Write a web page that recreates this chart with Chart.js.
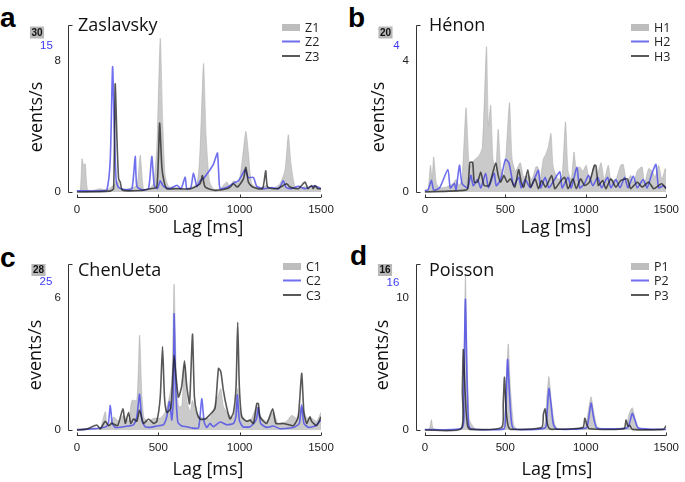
<!DOCTYPE html>
<html><head><meta charset="utf-8">
<script src="https://cdn.jsdelivr.net/npm/chart.js@4/dist/chart.umd.min.js"></script>
<style>
body{margin:0;background:#fff;width:685px;height:482px;position:relative;overflow:hidden}
canvas{position:absolute}
.lt{position:absolute;font:bold 28px "Liberation Sans",Arial,sans-serif;line-height:28px;color:#000}
</style></head><body>
<div class="lt" style="left:0;top:4px">a</div>
<div class="lt" style="left:348px;top:4px">b</div>
<div class="lt" style="left:0;top:244px">c</div>
<div class="lt" style="left:350px;top:242px">d</div>
<canvas id="ca" width="342" height="240" style="left:0;top:0"></canvas>
<canvas id="cb" width="343" height="240" style="left:342px;top:0"></canvas>
<canvas id="cc" width="342" height="242" style="left:0;top:240px"></canvas>
<canvas id="cd" width="343" height="242" style="left:342px;top:240px"></canvas>
<script>
// ---- data: [lag ms, events/s] ----
const xTicks = [0, 500, 1000, 1500];

// a) Zaslavsky
const z1 = [[0,0.3],[20,0.2],[31,6.0],[41,4.8],[51,5.1],[65,0.4],[100,0.3],[143,0.6],[184,0.4],[225,1.2],[250,2.0],[266,0.6],[317,0.6],[368,1.2],[389,6.6],[409,0.6],[440,0.5],[470,1.5],[491,8],[512,27.6],[528,12],[542,3],[563,1],[614,0.8],[675,0.5],[737,1.5],[757,8],[778,23.1],[794,10],[814,2],[839,0.5],[880,0.6],[921,1.8],[941,0.8],[962,2],[992,1.5],[1013,5],[1038,10.9],[1054,7],[1074,1.5],[1120,0.6],[1166,1.2],[1197,0.5],[1248,1.5],[1279,4],[1299,10.3],[1316,5],[1340,1],[1371,0.6],[1400,1.0],[1430,0.5],[1460,0.9],[1500,0.5]];
const z2 = [[0,0.1],[150,0.1],[184,0.2],[205,3],[219,11.25],[229,6],[241,1],[256,0.4],[300,0.2],[338,0.3],[358,3.2],[368,0.5],[400,0.2],[440,0.3],[460,3.2],[475,0.6],[495,0.3],[512,1],[532,0.5],[570,0.3],[614,0.6],[640,0.3],[665,1.35],[675,0.3],[700,0.4],[716,1.7],[737,0.5],[757,1],[778,1.2],[798,1.6],[818,2.0],[839,2.5],[855,3.2],[864,3.5],[872,1.5],[880,0.3],[920,0.4],[962,0.8],[992,1.0],[1013,1.5],[1033,2.0],[1054,1.3],[1085,1.3],[1105,0.5],[1150,0.3],[1200,0.4],[1240,0.3],[1269,1.0],[1285,0.4],[1320,0.3],[1360,0.5],[1400,0.3],[1440,0.5],[1473,0.5],[1500,0.3]];
const z3 = [[0,0],[200,0.05],[225,0.2],[235,6.6],[246,3.2],[256,0.8],[266,0.6],[280,0.1],[400,0.1],[450,0.2],[491,0.3],[508,4.2],[522,1.5],[536,0.6],[552,0.2],[600,0.2],[700,0.2],[757,0.5],[771,1.0],[788,0.3],[850,0.1],[920,0.2],[941,0.3],[962,0.5],[986,0.3],[1023,0.8],[1038,1.5],[1054,0.6],[1080,0.3],[1140,0.2],[1160,1.3],[1172,0.3],[1230,0.2],[1289,0.5],[1309,0.3],[1360,0.2],[1402,0.6],[1420,0.2],[1442,0.4],[1452,0.2],[1463,0.4],[1480,0.2],[1500,0.2]];

// b) Hénon
const h1 = [[0,0.2],[20,0.3],[35,3.2],[45,1.5],[55,4.2],[72,1.0],[92,0.5],[133,0.6],[174,1.0],[194,1.5],[211,0.8],[231,1.5],[256,10.1],[276,3],[297,3.6],[317,4],[338,4.4],[358,5.4],[383,17.4],[395,8],[409,10.4],[423,4],[440,2.5],[456,7.5],[471,3],[491,2],[501,3.5],[526,10.7],[542,4],[563,2.5],[593,3.5],[614,1.8],[645,2],[665,1.5],[690,3],[702,3.0],[716,1.5],[737,4],[751,4.5],[767,5.4],[784,7],[798,3],[829,1.5],[853,2],[874,8.4],[890,2.5],[910,1.5],[927,4.8],[941,2.8],[962,3],[982,2.5],[1003,3.2],[1023,1.5],[1054,3.2],[1070,2],[1095,3.5],[1115,1.5],[1140,3.2],[1156,1.5],[1187,1.5],[1217,3.2],[1233,3.3],[1254,1.2],[1279,2],[1299,1.2],[1320,2.5],[1350,3],[1365,1],[1391,2.8],[1412,2.5],[1432,1.8],[1453,3.2],[1473,1.5],[1494,2.8],[1500,2.5]];
const h2 = [[0,0.03],[20,0.05],[41,0.28],[55,0.05],[92,0.1],[143,0.54],[158,0.1],[184,0.2],[194,0.05],[215,0.64],[231,0.2],[266,0.1],[286,0.4],[301,0.15],[327,0.3],[348,0.1],[378,0.45],[395,0.1],[430,0.45],[444,0.15],[471,0.3],[501,0.78],[522,0.7],[538,0.4],[552,0.15],[583,0.35],[599,0.1],[624,0.3],[655,0.1],[685,0.35],[706,0.52],[720,0.1],[747,0.35],[771,0.1],[798,0.25],[839,0.48],[853,0.1],[890,0.35],[910,0.1],[945,0.6],[962,0.1],[992,0.2],[1017,0.4],[1044,0.15],[1074,0.35],[1099,0.1],[1136,0.35],[1156,0.1],[1187,0.3],[1213,0.1],[1242,0.35],[1262,0.1],[1295,0.38],[1320,0.1],[1357,0.3],[1381,0.1],[1412,0.45],[1436,0.66],[1453,0.1],[1483,0.15],[1500,0.1]];
const h3 = [[0,0],[240,0.05],[266,0.1],[280,0.9],[297,0.9],[307,0.3],[327,0.3],[348,0.6],[368,0.2],[399,0.2],[440,0.88],[456,0.5],[471,0.3],[491,0.5],[512,0.3],[532,0.4],[559,0.15],[583,0.68],[599,0.3],[614,0.15],[640,0.68],[657,0.15],[685,0.4],[706,0.1],[726,0.35],[751,0.15],[788,0.5],[808,0.1],[839,0.3],[869,0.45],[890,0.1],[921,0.4],[941,0.1],[968,0.4],[992,0.2],[1023,0.3],[1054,0.82],[1064,0.8],[1078,0.2],[1105,0.35],[1125,0.1],[1156,0.4],[1187,0.15],[1217,0.35],[1258,0.4],[1279,0.1],[1320,0.3],[1350,0.15],[1391,0.3],[1422,0.1],[1453,0.2],[1473,0.25],[1500,0.1]];

// c) ChenUeta
const c1 = [[0,0.2],[100,0.3],[143,0.3],[174,3.1],[188,0.5],[225,2.2],[256,1.5],[286,2.5],[317,1.5],[338,5],[368,5],[385,16],[399,6],[413,2],[440,1.5],[471,2],[512,2],[542,3],[563,5],[583,8],[597,24.6],[610,10],[624,4],[644,4],[661,11],[675,5],[696,3],[710,5],[737,2.5],[778,2],[818,2],[870,6],[884,7],[900,4],[921,3],[962,2],[988,7],[1003,3],[1043,1.5],[1074,2],[1105,4],[1136,2],[1166,1.5],[1207,3],[1238,1],[1289,1.5],[1320,2.5],[1350,2],[1381,4],[1412,2],[1442,2],[1473,1.5],[1500,3]];
const c2 = [[0,0],[100,0.2],[143,0.3],[180,0.5],[194,1.2],[205,3.7],[217,1.0],[235,0.4],[286,0.5],[317,0.6],[348,0.8],[368,2],[385,5.4],[399,1.5],[419,0.5],[450,0.4],[491,0.6],[532,0.8],[552,2],[569,4.3],[583,1.5],[593,5],[597,17.5],[608,6],[620,1.2],[644,0.6],[675,0.5],[706,0.3],[747,0.3],[767,4.7],[782,1.2],[798,0.4],[818,1.0],[839,0.5],[880,1.2],[921,0.8],[962,1.0],[978,2.2],[986,5.3],[998,1.5],[1019,0.5],[1064,0.5],[1101,1.5],[1115,3.4],[1129,1.0],[1166,0.4],[1207,0.6],[1248,0.2],[1309,0.3],[1340,0.5],[1367,1.0],[1381,3.8],[1395,1.0],[1422,0.4],[1463,0.6],[1500,1.5]];
const c3 = [[0,0],[61,0.05],[123,0.23],[143,0.05],[174,0.4],[194,0.2],[215,0.3],[250,0.2],[282,0.96],[297,0.3],[317,0.8],[331,0.3],[348,0.5],[368,0.4],[385,0.9],[409,0.3],[440,0.5],[471,0.3],[491,0.4],[512,1.5],[526,3.8],[538,1.5],[552,0.8],[577,1.0],[589,2.5],[597,3.4],[608,2.5],[624,1.5],[644,2.0],[661,3.15],[675,2.0],[692,1.2],[710,4.36],[722,1.5],[737,0.8],[757,0.5],[788,0.5],[818,0.7],[849,1.0],[870,2.8],[884,2.66],[900,1.8],[921,1.0],[941,0.5],[962,0.8],[978,2],[988,4.9],[998,2],[1013,0.6],[1043,0.4],[1064,0.45],[1085,0.3],[1105,1.2],[1115,1.2],[1125,0.6],[1166,0.3],[1203,0.96],[1223,0.3],[1268,0.3],[1330,0.2],[1360,0.6],[1381,2.58],[1395,0.8],[1412,0.3],[1432,0.6],[1442,0.4],[1473,0.2],[1500,0.6]];

// d) Poisson
const p1 = [[0,0],[27,0.1],[41,1.0],[55,0.1],[225,0.1],[239,2],[252,15],[262,7],[276,1],[297,0.4],[317,0.05],[481,0.2],[501,3],[518,8.3],[532,4],[552,0.5],[573,0.1],[737,0.3],[757,3],[771,5.15],[788,2.5],[808,0.5],[830,0.1],[992,0.3],[1017,2],[1033,3.2],[1049,1.8],[1070,0.3],[1090,0.1],[1248,0.3],[1268,1.5],[1289,2.15],[1309,1.0],[1330,0.2],[1350,0.1],[1500,0.1]];
const p2 = [[0,0.05],[231,0.2],[241,3],[252,12.6],[262,5],[272,0.5],[286,0.1],[491,0.1],[501,1],[514,6.8],[526,3.5],[538,0.8],[552,0.1],[747,0.2],[759,1.5],[771,4.0],[784,2.5],[798,0.6],[818,0.1],[1003,0.2],[1017,1.0],[1033,2.6],[1049,1.2],[1070,0.2],[1258,0.2],[1274,0.8],[1289,1.6],[1305,1.0],[1326,0.2],[1500,0.05]];
const p3 = [[0,0],[225,0.1],[233,3],[239,6.1],[248,3.5],[256,1.5],[266,0.3],[280,0.05],[477,0.2],[487,2],[495,4.0],[505,1.5],[518,0.3],[532,0.05],[726,0.2],[737,1.2],[747,1.6],[759,0.6],[771,0.15],[790,0.05],[982,0.2],[994,0.89],[1007,0.4],[1023,0.1],[1238,0.1],[1250,0.76],[1262,0.3],[1274,0.35],[1289,0.05],[1483,0.05],[1500,0.33]];

const GRAY = 'rgba(170,170,170,0.62)', BLUE = 'rgba(70,70,235,0.78)', DARK = 'rgba(25,25,25,0.72)';
const pts = a => a.map(([x, y]) => ({x, y}));

// axes, legend, titles drawn on top of the chart area
const decor = {
  id: 'decor',
  afterDraw(chart, args, o) {
    const ctx = chart.ctx, a = chart.chartArea, x = chart.scales.x, y = chart.scales.yk;
    ctx.save();
    ctx.strokeStyle = '#333'; ctx.lineWidth = 1;
    const xl = Math.round(a.left) + 0.5, yt = Math.round(a.top) + 0.5;
    const y0 = Math.round(y.getPixelForValue(0)) + 0.5, xb = Math.round(a.bottom) + 0.5;
    ctx.beginPath();
    ctx.moveTo(xl + 4, yt); ctx.lineTo(xl, yt); ctx.lineTo(xl, y0); ctx.lineTo(xl + 4, y0);
    ctx.moveTo(x.getPixelForValue(0), xb); ctx.lineTo(x.getPixelForValue(1500), xb);
    xTicks.forEach(v => { const p = Math.round(x.getPixelForValue(v)) + 0.5; ctx.moveTo(p, xb); ctx.lineTo(p, xb - 3); });
    ctx.stroke();

    ctx.fillStyle = '#111';
    ctx.font = '18px "Open Sans"';
    ctx.textBaseline = 'alphabetic'; ctx.textAlign = 'left';
    ctx.fillText(o.title, o.titleX, o.titleY);
    ctx.textAlign = 'center'; ctx.textBaseline = 'middle';
    ctx.fillText('Lag [ms]', o.lagX, o.lagY);
    ctx.save(); ctx.translate(o.evX, o.evY); ctx.rotate(-Math.PI / 2);
    ctx.fillText('events/s', 0, 0); ctx.restore();

    // legend
    ctx.font = '12.5px "Open Sans"'; ctx.textAlign = 'left';
    chart.data.datasets.forEach((d, i) => {
      const ly = o.legY + i * 14.5;
      if (d.fill) { ctx.fillStyle = '#bdbdbd'; ctx.fillRect(o.legX, ly - 3, 18, 7); }
      else { ctx.fillStyle = d.borderColor; ctx.fillRect(o.legX, ly - 1, 18, 2); }
      ctx.fillStyle = '#222'; ctx.fillText(d.label, o.legX + 23, ly + 1);
    });

    // maxima of the gray and blue traces
    ctx.font = 'bold 10px "Liberation Sans"';
    ctx.textAlign = 'center';
    const w = ctx.measureText(o.topG).width + 3;
    ctx.fillStyle = '#b8b8b8'; ctx.fillRect(o.gX - w / 2, o.gY - 6, w, 12);
    ctx.fillStyle = '#111'; ctx.fillText(o.topG, o.gX, o.gY + 0.5);
    ctx.font = '11.5px "Liberation Sans"'; ctx.fillStyle = '#3b3bf5';
    ctx.fillText(o.topB, o.bX, o.bY);
    ctx.restore();
  }
};

function panel(id, labels, series, maxG, maxB, maxK, tickK, pad, yW, o) {
  const r = 0.03;
  const lin = (mx, extra) => Object.assign({min: -mx * r, max: mx, display: false}, extra || {});
  new Chart(document.getElementById(id), {
    type: 'line',
    data: {datasets: [
      {label: labels[0], data: pts(series[0]), yAxisID: 'yg', fill: 'origin', backgroundColor: GRAY, borderColor: 'rgba(170,170,170,0.5)', borderWidth: 1, order: 3},
      {label: labels[1], data: pts(series[1]), yAxisID: 'yb', fill: false, borderColor: BLUE, borderWidth: 1.6, order: 2},
      {label: labels[2], data: pts(series[2]), yAxisID: 'yk', fill: false, borderColor: DARK, borderWidth: 1.6, order: 1},
    ]},
    options: {
      responsive: false, animation: false, events: [],
      layout: {padding: pad},
      elements: {point: {radius: 0}, line: {tension: 0.2}},
      plugins: {legend: {display: false}, tooltip: {enabled: false}, decor: o},
      scales: {
        x: {type: 'linear', min: -55, max: 1500,
            grid: {display: false, drawTicks: false}, border: {display: false},
            ticks: {padding: 6, color: '#222', autoSkip: false, maxRotation: 0, callback: v => String(v),
                    font: {family: '"Liberation Sans"', size: 11.5}},
            afterBuildTicks: s => { s.ticks = xTicks.map(v => ({value: v})); },
            afterFit: s => { s.height = 20; }},
        yk: lin(maxK, {display: true, position: 'left',
            grid: {display: false, drawTicks: false}, border: {display: false},
            ticks: {padding: 7, color: '#222', callback: v => String(v), font: {family: '"Liberation Sans"', size: 11.5}},
            afterBuildTicks: s => { s.ticks = [0, tickK].map(v => ({value: v})); },
            afterFit: s => { s.width = yW; }}),
        yg: lin(maxG),
        yb: lin(maxB),
      }
    },
    plugins: [decor]
  });
}

panel('ca', ['Z1','Z2','Z3'], [z1, z2, z3], 30, 15, 10.2, 8,
  {left: 0, top: 25, right: 21, bottom: 23}, 68,
  {title: 'Zaslavsky', titleX: 78, titleY: 31, lagX: 208, lagY: 228, evX: 37, evY: 117,
   legX: 282, legY: 27, topG: '30', gX: 37, gY: 32.5, topB: '15', bX: 46.5, bY: 45.5});
panel('cb', ['H1','H2','H3'], [h1, h2, h3], 20, 4, 5.1, 4,
  {left: 0, top: 25, right: 16, bottom: 23}, 74,
  {title: 'Hénon', titleX: 87, titleY: 31, lagX: 214, lagY: 228, evX: 36.5, evY: 117,
   legX: 289, legY: 27, topG: '20', gX: 43.5, gY: 32.5, topB: '4', bX: 54.5, bY: 45.5});
panel('cc', ['C1','C2','C3'], [c1, c2, c3], 28, 25, 7.55, 6,
  {left: 0, top: 24, right: 21, bottom: 27}, 68,
  {title: 'ChenUeta', titleX: 78, titleY: 36, lagX: 208, lagY: 230, evX: 36, evY: 115,
   legX: 283, legY: 26, topG: '28', gX: 38.5, gY: 30, topB: '25', bX: 46, bY: 42});
panel('cd', ['P1','P2','P3'], [p1, p2, p3], 16, 16, 12.6, 10,
  {left: 0, top: 24, right: 16, bottom: 27}, 74,
  {title: 'Poisson', titleX: 87, titleY: 36, lagX: 215, lagY: 230, evX: 41, evY: 115,
   legX: 289, legY: 26, topG: '16', gX: 43, gY: 30, topB: '16', bX: 51, bY: 43});
</script>
</body></html>
